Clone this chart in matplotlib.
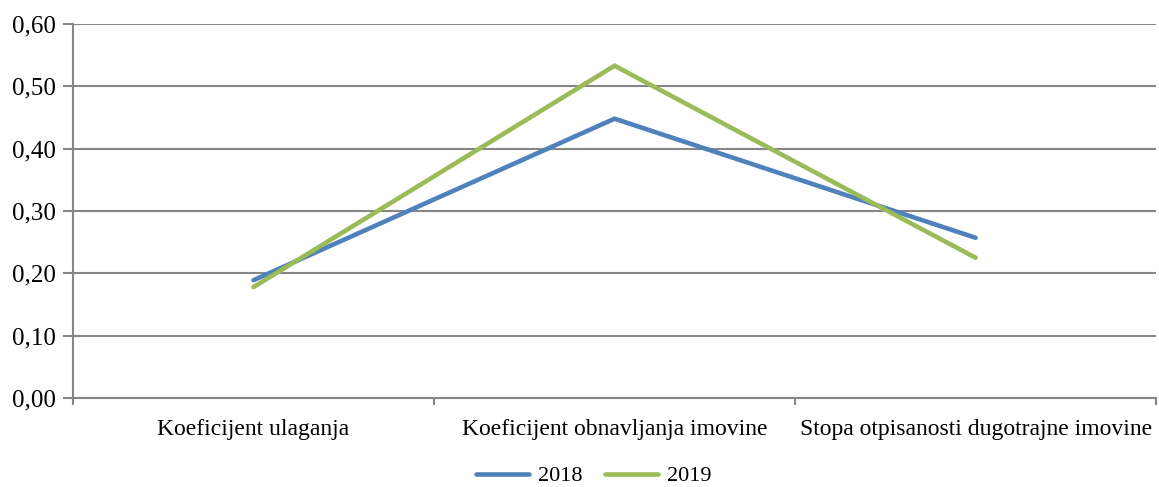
import matplotlib
matplotlib.use("Agg")
import matplotlib.pyplot as plt
from matplotlib.ticker import FuncFormatter

categories = ["Koeficijent ulaganja", "Koeficijent obnavljanja imovine",
              "Stopa otpisanosti dugotrajne imovine"]
values_2018 = [0.189, 0.448, 0.257]
values_2019 = [0.178, 0.533, 0.225]
series_labels = ["2018", "2019"]

plt.rcParams["font.family"] = ["Liberation Serif", "DejaVu Serif"]

fig = plt.figure(figsize=(11.59, 4.87), dpi=100)
ax = fig.add_axes([0.063, 0.1828, 0.9345, 0.768])

x = [0.5, 1.5, 2.5]
ax.plot(x, values_2018, color="#4F81BD", lw=3.3, solid_capstyle="round",
        solid_joinstyle="miter", label=series_labels[0], zorder=3)
ax.plot(x, values_2019, color="#9BBB59", lw=3.3, solid_capstyle="round",
        solid_joinstyle="miter", label=series_labels[1], zorder=3)

ax.set_xlim(0, 3)
ax.set_ylim(0, 0.6)
ax.set_yticks([0, 0.1, 0.2, 0.3, 0.4, 0.5, 0.6])
ax.yaxis.set_major_formatter(FuncFormatter(lambda v, p: f"{v:.2f}".replace(".", ",")))
ax.set_xticks([0, 1, 2, 3])
ax.set_xticklabels([])
ax.set_xticks(x, minor=True)
ax.set_xticklabels(categories, minor=True)
ax.tick_params(axis="x", which="minor", length=0, pad=15, labelsize=17)
ax.tick_params(axis="x", which="major", length=5, direction="out", color="#868686", width=1.5)
ax.tick_params(axis="y", length=7, direction="out", color="#868686", width=1.5, labelsize=18, pad=5)

ax.grid(axis="y", color="#868686", lw=1.5)
for s in ["top", "right"]:
    ax.spines[s].set_visible(False)
for s in ["left", "bottom"]:
    ax.spines[s].set_color("#868686")
    ax.spines[s].set_linewidth(1.5)
ax.set_axisbelow(True)

ax.legend(loc="center", bbox_to_anchor=(593.5 / 1159, 1 - 476 / 487),
          bbox_transform=fig.transFigure, ncol=2, frameon=False,
          fontsize=16, handlelength=2.4, columnspacing=1.0, handletextpad=0.4,
          borderpad=0.2)

fig.savefig("out.png", dpi=100)
